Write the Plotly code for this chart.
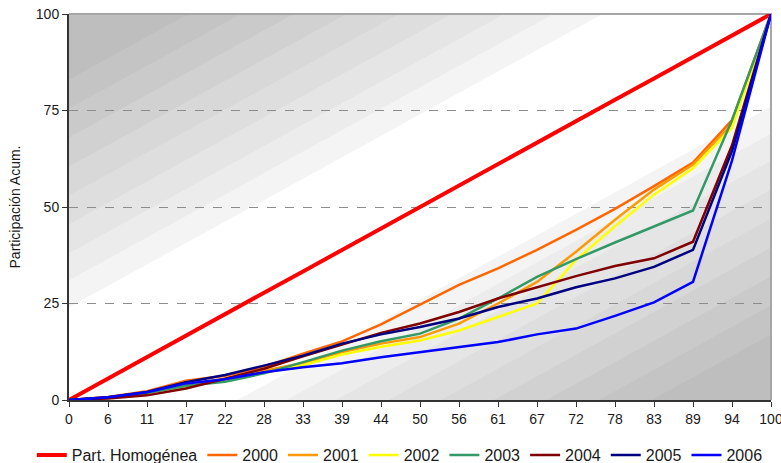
import plotly.graph_objects as go

# Cumulative population share (x) and cumulative participation (y), in percent
categories = ["0", "6", "11", "17", "22", "28", "33", "39", "44", "50",
              "56", "61", "67", "72", "78", "83", "89", "94", "100"]

homogenea = [0, 5.6, 11.1, 16.7, 22.2, 27.8, 33.3, 38.9, 44.4, 50.0,
             55.6, 61.1, 66.7, 72.2, 77.8, 83.3, 88.9, 94.4, 100]
y2000 = [0, 0.8, 2.3, 5.0, 6.3, 8.6, 12.0, 15.2, 19.6, 24.6,
         29.8, 34.1, 38.9, 44.1, 49.5, 55.4, 61.5, 72.5, 100]
y2001 = [0, 0.7, 2.0, 4.0, 5.5, 7.5, 9.6, 12.4, 14.6, 16.3,
         19.8, 25.0, 30.6, 38.4, 46.7, 54.5, 61.0, 71.5, 100]
y2002 = [0, 0.6, 1.8, 3.6, 5.0, 7.0, 9.0, 11.8, 13.8, 15.4,
         18.0, 21.5, 25.0, 36.3, 45.0, 53.2, 60.0, 70.5, 100]
y2003 = [0, 0.6, 1.8, 3.7, 4.7, 6.9, 9.8, 12.8, 15.2, 17.2,
         21.1, 26.3, 31.9, 36.5, 40.8, 45.0, 49.1, 72.5, 100]
y2004 = [0, 0.4, 1.2, 3.0, 5.5, 8.1, 11.3, 14.4, 17.4, 19.8,
         22.8, 26.3, 29.3, 32.1, 34.7, 36.7, 41.0, 66.0, 100]
y2005 = [0, 0.7, 2.1, 4.6, 6.5, 8.9, 11.5, 14.6, 17.0, 18.9,
         21.1, 24.1, 26.3, 29.2, 31.5, 34.5, 38.9, 64.5, 100]
y2006 = [0, 0.7, 2.0, 4.3, 5.4, 7.2, 8.5, 9.5, 11.1, 12.4,
         13.7, 15.0, 17.0, 18.5, 21.8, 25.3, 30.6, 62.0, 100]

series_names = ["Part. Homogénea", "2000", "2001", "2002", "2003", "2004", "2005", "2006"]
series_values = [homogenea, y2000, y2001, y2002, y2003, y2004, y2005, y2006]
series_colors = ["#ff0000", "#ff6600", "#ff9900", "#ffff00", "#339966",
                 "#800000", "#000080", "#0000ff"]
series_widths = [4, 2.5, 2.5, 2.5, 2.5, 2.5, 2.5, 2.5]

y_ticks = [0, 25, 50, 75, 100]

fig = go.Figure()
for name, vals, col, w in zip(series_names, series_values, series_colors, series_widths):
    fig.add_trace(go.Scatter(
        x=categories, y=vals, name=name, mode="lines",
        line=dict(color=col, width=w),
    ))

# Diagonal grey bands behind the plot (lighter towards the equality diagonal)
band_edges = [0.24, 0.31, 0.38, 0.455, 0.53, 0.605, 0.68, 0.755, 0.83]
band_fills = ["#f4f4f4", "#ececec", "#e5e5e5", "#dedede", "#d8d8d8",
              "#d1d1d1", "#cacaca", "#c4c4c4", "#bebebe"]
shapes = []
for d, fill in zip(band_edges, band_fills):
    # upper-left triangle
    shapes.append(dict(type="path", xref="paper", yref="paper", layer="below",
                       path=f"M 0,{d} L 0,1 L {1 - d},1 Z",
                       fillcolor=fill, line=dict(width=0)))
    # lower-right triangle
    shapes.append(dict(type="path", xref="paper", yref="paper", layer="below",
                       path=f"M {d},0 L 1,0 L 1,{1 - d} Z",
                       fillcolor=fill, line=dict(width=0)))
# grey frame on the top and right edges
shapes.append(dict(type="path", xref="paper", yref="paper", layer="below",
                   path="M 0,1 L 1,1 L 1,0", line=dict(color="#a6a6a6", width=2)))

font_family = "Liberation Sans, Arial, sans-serif"

fig.update_layout(
    width=781, height=463,
    margin=dict(l=69, r=10, t=14, b=63, autoexpand=False),
    paper_bgcolor="white", plot_bgcolor="white",
    shapes=shapes,
    font=dict(family=font_family, size=14, color="#1a1a1a"),
    showlegend=True,
    legend=dict(
        orientation="h", x=-0.053, xanchor="left", y=-0.1425, yanchor="middle",
        font=dict(size=16, color="#1a1a1a"), bgcolor="rgba(0,0,0,0)",
        itemwidth=30, traceorder="normal",
    ),
    xaxis=dict(
        type="category", range=[0, 18], automargin=False,
        showgrid=False, zeroline=False,
        showline=True, linecolor="#333333", linewidth=2,
        ticks="outside", ticklen=5, tickwidth=1, tickcolor="#333333",
        tickfont=dict(size=14),
    ),
    yaxis=dict(
        range=[0, 100], tickvals=y_ticks, ticktext=[str(v) for v in y_ticks],
        automargin=False,
        showgrid=True, gridcolor="#8c8c8c", griddash="dash", gridwidth=1,
        zeroline=False,
        showline=True, linecolor="#333333", linewidth=2,
        ticks="outside", ticklen=5, tickwidth=1, tickcolor="#333333",
        tickfont=dict(size=14),
        title=dict(text="Participación Acum.", font=dict(size=14), standoff=12),
    ),
)

fig.write_html("out.html")
